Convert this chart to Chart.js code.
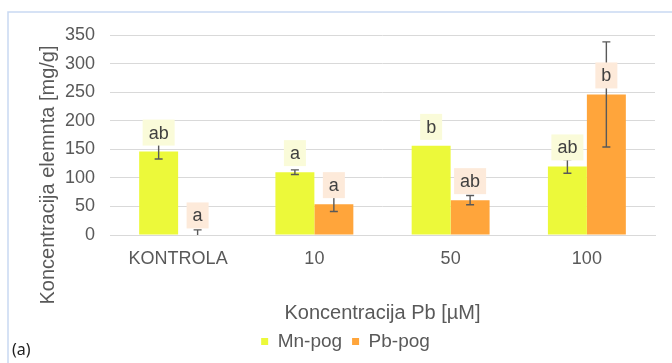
<!DOCTYPE html>
<html>
<head>
<meta charset="utf-8">
<script src="https://cdn.jsdelivr.net/npm/chart.js@4"></script>
<style>
  html, body { margin: 0; padding: 0; background: #fff; }
  #wrap { width: 672px; height: 363px; position: relative; }
</style>
</head>
<body>
<div id="wrap"><canvas id="chart"></canvas></div>
<script>
// categories and values
const categories = ['KONTROLA', '10', '50', '100'];
const mnValues = [146, 110, 156, 120];
const mnErrors = [13, 4, 0, 12];
const mnLetters = ['ab', 'a', 'b', 'ab'];
const pbValues = [1, 54, 61, 246];
const pbErrors = [8, 13, 8, 92];
const pbLetters = ['a', 'a', 'ab', 'b'];
const yTicks = [0, 50, 100, 150, 200, 250, 300, 350];

const textGrey = '#595959';
const fontFamily = '"Liberation Sans", Arial, sans-serif';

// frame + panel letter + vertical axis title
const decorPlugin = {
  id: 'decor',
  beforeDraw(chart) {
    const ctx = chart.ctx;
    ctx.save();
    ctx.fillStyle = '#fff';
    ctx.fillRect(0, 0, chart.width, chart.height);
    ctx.strokeStyle = '#C9D9F2';
    ctx.lineWidth = 1.5;
    ctx.beginPath();
    ctx.moveTo(8, chart.height);
    ctx.lineTo(8, 12);
    ctx.lineTo(chart.width, 12);
    ctx.stroke();
    ctx.restore();
  },
  afterDraw(chart) {
    const ctx = chart.ctx;
    ctx.save();
    ctx.fillStyle = textGrey;
    ctx.font = '20px ' + fontFamily;
    ctx.textAlign = 'center';
    ctx.textBaseline = 'middle';
    ctx.translate(48, 175);
    ctx.rotate(-Math.PI / 2);
    ctx.fillText('Koncentracija elemnta [mg/g]', 0, 0);
    ctx.restore();

    ctx.save();
    ctx.fillStyle = '#222';
    ctx.font = '16px "Noto Sans", sans-serif';
    ctx.textBaseline = 'middle';
    ctx.fillText('(a)', 12, 350);
    ctx.restore();
  }
};

// error bars, then the letter labels on top of them
const errorLabelPlugin = {
  id: 'errorLabels',
  afterDatasetsDraw(chart) {
    const ctx = chart.ctx;
    const y = chart.scales.y;
    const errs = [mnErrors, pbErrors];
    const letters = [mnLetters, pbLetters];
    const boxColors = ['#FAFBD9', '#FDEADA'];

    ctx.save();
    ctx.strokeStyle = '#595959';
    ctx.lineWidth = 1.4;
    chart.data.datasets.forEach((ds, di) => {
      chart.getDatasetMeta(di).data.forEach((bar, i) => {
        const e = errs[di][i];
        if (!e) return;
        const v = ds.data[i];
        const yTop = y.getPixelForValue(v + e);
        const yBot = y.getPixelForValue(Math.max(0, v - e));
        ctx.beginPath();
        ctx.moveTo(bar.x, yTop);
        ctx.lineTo(bar.x, yBot);
        ctx.moveTo(bar.x - 4, yTop);
        ctx.lineTo(bar.x + 4, yTop);
        if (v - e > 0) {
          ctx.moveTo(bar.x - 4, yBot);
          ctx.lineTo(bar.x + 4, yBot);
        }
        ctx.stroke();
      });
    });

    ctx.font = '18px ' + fontFamily;
    ctx.textAlign = 'center';
    ctx.textBaseline = 'middle';
    chart.data.datasets.forEach((ds, di) => {
      chart.getDatasetMeta(di).data.forEach((bar, i) => {
        const txt = letters[di][i];
        const w = ctx.measureText(txt).width + 12;
        const h = 26;
        const bottom = bar.y - 6;
        ctx.fillStyle = boxColors[di];
        ctx.fillRect(bar.x - w / 2, bottom - h, w, h);
        ctx.fillStyle = '#404040';
        ctx.fillText(txt, bar.x, bottom - h / 2 + 1);
      });
    });
    ctx.restore();
  }
};

new Chart(document.getElementById('chart'), {
  type: 'bar',
  data: {
    labels: categories,
    datasets: [
      { label: 'Mn-pog', data: mnValues, backgroundColor: '#ECF93A' },
      { label: 'Pb-pog', data: pbValues, backgroundColor: '#FFA53B' }
    ]
  },
  options: {
    responsive: true,
    maintainAspectRatio: false,
    animation: false,
    layout: { padding: { left: 36, right: 17, top: 35, bottom: 2 } },
    datasets: { bar: { categoryPercentage: 0.572, barPercentage: 1.0 } },
    plugins: {
      tooltip: { enabled: false },
      legend: {
        position: 'bottom',
        labels: {
          boxWidth: 7,
          boxHeight: 7,
          padding: 10,
          color: textGrey,
          font: { family: fontFamily, size: 19 }
        }
      }
    },
    scales: {
      x: {
        grid: { display: false, drawTicks: false },
        border: { color: '#D9D9D9', width: 1 },
        ticks: { color: textGrey, padding: 13, font: { family: fontFamily, size: 18 } },
        title: {
          display: true,
          text: 'Koncentracija Pb [µM]',
          color: textGrey,
          font: { family: fontFamily, size: 20 },
          padding: { top: 0, bottom: -3 }
        },
        afterFit(scale) { scale.height = 87; }
      },
      y: {
        min: 0,
        max: 350,
        afterBuildTicks(scale) { scale.ticks = yTicks.map(v => ({ value: v })); },
        grid: { color: '#D9D9D9', drawTicks: false },
        border: { display: false },
        ticks: { color: textGrey, padding: 15, font: { family: fontFamily, size: 18 } },
        afterFit(scale) { scale.width = 74; }
      }
    }
  },
  plugins: [decorPlugin, errorLabelPlugin]
});
</script>
</body>
</html>
